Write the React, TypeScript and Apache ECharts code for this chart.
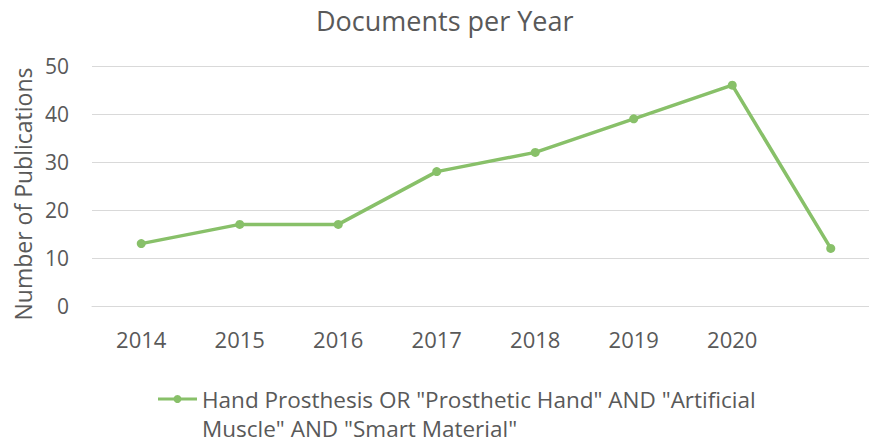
import React, { useEffect, useRef } from "react";
import * as echarts from "echarts";

const categories = ["2014", "2015", "2016", "2017", "2018", "2019", "2020", ""];
const publications = [13, 17, 17, 28, 32, 39, 46, 12];
const seriesName = 'Hand Prosthesis OR "Prosthetic Hand" AND "Artificial Muscle" AND "Smart Material"';
const legendLines = ['Hand Prosthesis OR "Prosthetic Hand" AND "Artificial', 'Muscle" AND "Smart Material"'];
const chartTitle = "Documents per Year";
const yAxisName = "Number of Publications";

const FONT = "Open Sans";
const TEXT = "#595959";
const GREEN = "#88C069";

export default function App() {
  const ref = useRef<HTMLDivElement>(null);
  useEffect(() => {
    if (!ref.current) return;
    const chart = echarts.init(ref.current, undefined, { renderer: "svg" });
    const legendText = (t: string, cy: number) => ({
      type: "text",
      x: 44,
      y: cy,
      style: {
        text: t,
        fontFamily: FONT,
        fontSize: 22.5,
        lineHeight: 24,
        fill: TEXT,
        verticalAlign: "middle",
      },
    });
    chart.setOption({
      animation: false,
      backgroundColor: "#ffffff",
      textStyle: { fontFamily: FONT, color: TEXT },
      title: {
        text: chartTitle,
        left: 311,
        top: 2,
        textStyle: { fontFamily: FONT, fontSize: 27, fontWeight: "normal", color: TEXT },
      },
      legend: { show: false, data: [seriesName] },
      graphic: [
        {
          type: "group",
          x: 158,
          y: 0,
          children: [
            { type: "line", shape: { x1: 0, y1: 399, x2: 39, y2: 399 }, style: { stroke: GREEN, lineWidth: 3 } },
            { type: "circle", shape: { cx: 19.5, cy: 399, r: 4 }, style: { fill: GREEN } },
            legendText(legendLines[0], 399),
            legendText(legendLines[1], 428),
          ],
        },
      ],
      grid: { left: 92, right: -11, top: 66, bottom: 137, containLabel: false, outerBoundsMode: "none" },
      xAxis: {
        type: "category",
        data: categories,
        boundaryGap: true,
        axisLine: { show: true, lineStyle: { color: "#D9D9D9", width: 1 } },
        axisTick: { show: false },
        axisLabel: { interval: 0, fontFamily: FONT, fontSize: 22, color: TEXT, margin: 22 },
      },
      yAxis: {
        type: "value",
        min: 0,
        max: 50,
        interval: 10,
        name: yAxisName,
        nameLocation: "middle",
        nameGap: 58,
        nameTextStyle: { fontFamily: FONT, fontSize: 23, color: TEXT, padding: [0, 16, 0, 0] },
        axisLine: { show: false },
        axisTick: { show: false },
        axisLabel: { fontFamily: FONT, fontSize: 21, color: TEXT, margin: 23 },
        splitLine: { lineStyle: { color: "#D9D9D9", width: 1 } },
      },
      series: [
        {
          name: seriesName,
          type: "line",
          data: publications,
          symbol: "circle",
          symbolSize: 9,
          lineStyle: { color: GREEN, width: 3.5 },
          itemStyle: { color: GREEN },
        },
      ],
    });
    return () => chart.dispose();
  }, []);
  return (
    <div
      ref={ref}
      style={{ position: "fixed", left: 0, top: 0, width: 869, height: 443, overflow: "hidden" }}
    />
  );
}
